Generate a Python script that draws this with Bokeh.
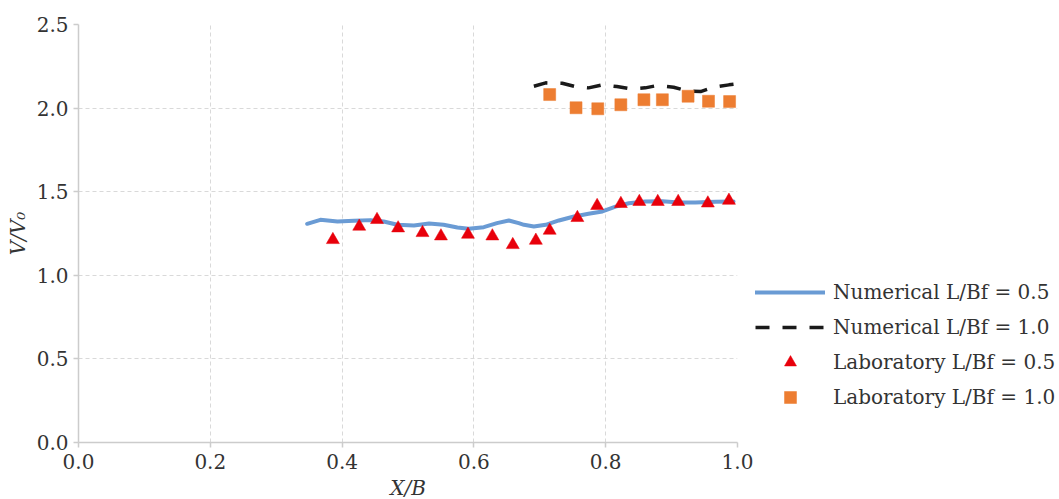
from bokeh.plotting import figure
from bokeh.models import (Range1d, Legend, LegendItem, SingleIntervalTicker,
                          NumeralTickFormatter)
from bokeh.embed import file_html
from bokeh.resources import INLINE

# Numerical result, L/Bf = 0.5
num05_x = [0.347, 0.367, 0.393, 0.418, 0.443, 0.463, 0.484, 0.509, 0.532, 0.554,
           0.575, 0.592, 0.615, 0.635, 0.653, 0.668, 0.676, 0.691, 0.709, 0.729,
           0.752, 0.774, 0.795, 0.815, 0.835, 0.860, 0.886, 0.911, 0.936, 0.967,
           0.994]
num05_y = [1.308, 1.332, 1.322, 1.326, 1.330, 1.322, 1.302, 1.298, 1.310, 1.302,
           1.286, 1.278, 1.288, 1.312, 1.328, 1.312, 1.302, 1.292, 1.302, 1.328,
           1.352, 1.368, 1.382, 1.411, 1.431, 1.441, 1.443, 1.435, 1.435, 1.440,
           1.441]

# Numerical result, L/Bf = 1.0
num10_x = [0.691, 0.709, 0.734, 0.754, 0.774, 0.795, 0.817, 0.838, 0.860, 0.878,
           0.903, 0.926, 0.944, 0.964, 0.987, 1.000]
num10_y = [2.131, 2.151, 2.149, 2.129, 2.121, 2.139, 2.129, 2.115, 2.121, 2.135,
           2.125, 2.101, 2.099, 2.125, 2.139, 2.145]

# Laboratory measurements, L/Bf = 0.5
lab05_x = [0.386, 0.426, 0.453, 0.485, 0.522, 0.550, 0.591, 0.628, 0.659, 0.694,
           0.715, 0.757, 0.787, 0.823, 0.851, 0.879, 0.910, 0.955, 0.987]
lab05_y = [1.212, 1.292, 1.332, 1.282, 1.254, 1.234, 1.244, 1.234, 1.182, 1.208,
           1.268, 1.344, 1.416, 1.428, 1.440, 1.440, 1.440, 1.431, 1.447]

# Laboratory measurements, L/Bf = 1.0
lab10_x = [0.715, 0.755, 0.788, 0.823, 0.858, 0.886, 0.925, 0.956, 0.988]
lab10_y = [2.081, 2.002, 1.996, 2.020, 2.050, 2.050, 2.071, 2.041, 2.039]

legend_labels = ["Numerical L/Bf = 0.5", "Numerical L/Bf = 1.0",
                 "Laboratory L/Bf = 0.5", "Laboratory L/Bf = 1.0"]

FONT = "DejaVu Serif"
TEXT = "#333333"
FS = "20px"

p = figure(frame_width=659, frame_height=418, output_backend="svg",
           toolbar_location=None,
           x_range=Range1d(0, 1.0), y_range=Range1d(0, 2.5),
           min_border_left=78, min_border_right=0,
           min_border_top=24, min_border_bottom=57)
p.outline_line_color = None
p.background_fill_color = "white"

r_num05 = p.line(num05_x, num05_y, line_color="#6A9BD4", line_width=4,
                 line_join="round", line_cap="round")
r_num10 = p.line(num10_x, num10_y, line_color="#1A1A1A", line_width=3.5,
                 line_dash="14 13", line_join="round")
r_lab05 = p.scatter(lab05_x, lab05_y, marker="triangle", size=13,
                    fill_color="#E8000B", line_color="#E8000B", line_width=0.5)
r_lab10 = p.scatter(lab10_x, lab10_y, marker="square", size=12,
                    fill_color="#ED7D31", line_color="#ED7D31", line_width=0.5)

# axes
p.xaxis.ticker = SingleIntervalTicker(interval=0.2)
p.yaxis.ticker = SingleIntervalTicker(interval=0.5)
for ax in (p.xaxis, p.yaxis):
    ax.formatter = NumeralTickFormatter(format="0.0")
    ax.axis_line_color = "#CCCCCC"
    ax.axis_line_width = 1.5
    ax.major_tick_line_color = "#CCCCCC"
    ax.major_tick_line_width = 1.5
    ax.major_tick_out = 5
    ax.major_tick_in = 0
    ax.minor_tick_line_color = None
    ax.major_label_text_font = FONT
    ax.major_label_text_font_size = FS
    ax.major_label_text_color = TEXT
    ax.axis_label_text_font = FONT
    ax.axis_label_text_font_size = FS
    ax.axis_label_text_font_style = "italic"
    ax.axis_label_text_color = TEXT

p.xaxis.axis_label = "X/B"
p.yaxis.axis_label = "V/V₀"
p.xaxis.major_label_standoff = 6
p.yaxis.major_label_standoff = 5
p.xaxis.axis_label_standoff = 4
p.yaxis.axis_label_standoff = 4

for g in (p.xgrid, p.ygrid):
    g.grid_line_color = "#D9D9D9"
    g.grid_line_dash = "4 3"
    g.grid_line_width = 1

# legend in the right-hand side panel
legend = Legend(
    items=[LegendItem(label=legend_labels[0], renderers=[r_num05]),
           LegendItem(label=legend_labels[1], renderers=[r_num10]),
           LegendItem(label=legend_labels[2], renderers=[r_lab05]),
           LegendItem(label=legend_labels[3], renderers=[r_lab10])],
    location=(18, 30), glyph_width=70, glyph_height=30, label_height=30,
    spacing=5, padding=0, margin=10, label_standoff=8,
    border_line_color=None, background_fill_alpha=0,
    label_text_font=FONT, label_text_font_size=FS,
    label_text_color=TEXT)
p.add_layout(legend, "right")

open("out.html", "w").write(file_html(p, INLINE))
